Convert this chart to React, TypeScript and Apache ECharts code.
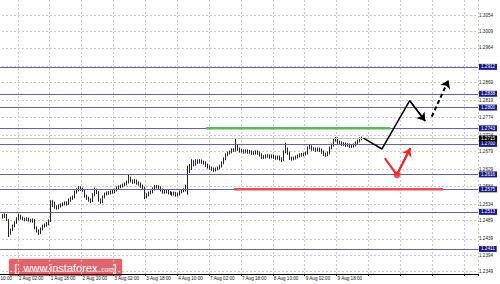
import React, { useEffect, useRef } from "react";
import * as echarts from "echarts";

// x-axis tick labels, one every 16 hourly bars, starting at slot 0
const timeLabels = [
  "31 Jul 10:00", "1 Aug 02:00", "1 Aug 18:00", "2 Aug 10:00", "3 Aug 02:00", "3 Aug 18:00",
  "4 Aug 10:00", "7 Aug 02:00", "7 Aug 18:00", "8 Aug 10:00", "9 Aug 02:00", "9 Aug 18:00",
];
const barsPerLabel = 16;
const slotCount = 247;
const firstBar = 8;

// H1 candles [open, close, low, high]
const candles = [
  [1.2502, 1.2499, 1.2494, 1.2507], [1.2499, 1.2505, 1.2496, 1.2509], [1.2505, 1.2491, 1.2488, 1.2507],
  [1.2491, 1.2458, 1.2444, 1.2493], [1.2458, 1.2463, 1.2450, 1.2467], [1.2463, 1.2474, 1.2460, 1.2478],
  [1.2474, 1.2483, 1.2471, 1.2487], [1.2483, 1.2494, 1.2480, 1.2498], [1.2494, 1.2502, 1.2490, 1.2508],
  [1.2502, 1.2496, 1.2492, 1.2505], [1.2496, 1.2494, 1.2490, 1.2500], [1.2494, 1.2491, 1.2487, 1.2497],
  [1.2491, 1.2494, 1.2488, 1.2498], [1.2494, 1.2491, 1.2486, 1.2497], [1.2491, 1.2488, 1.2484, 1.2494],
  [1.2488, 1.2491, 1.2483, 1.2495], [1.2491, 1.2469, 1.2465, 1.2493], [1.2469, 1.2461, 1.2456, 1.2473],
  [1.2461, 1.2455, 1.2449, 1.2465], [1.2455, 1.2466, 1.2452, 1.2470], [1.2466, 1.2474, 1.2462, 1.2478],
  [1.2474, 1.2477, 1.2470, 1.2481], [1.2477, 1.2480, 1.2472, 1.2485], [1.2480, 1.2488, 1.2476, 1.2492],
  [1.2488, 1.2532, 1.2485, 1.2545], [1.2532, 1.2538, 1.2526, 1.2546], [1.2538, 1.2527, 1.2522, 1.2541],
  [1.2527, 1.2524, 1.2519, 1.2531], [1.2524, 1.2529, 1.2520, 1.2533], [1.2529, 1.2532, 1.2525, 1.2536],
  [1.2532, 1.2535, 1.2528, 1.2539], [1.2535, 1.2538, 1.2531, 1.2542], [1.2538, 1.2535, 1.2530, 1.2542],
  [1.2535, 1.2546, 1.2532, 1.2550], [1.2546, 1.2551, 1.2541, 1.2555], [1.2551, 1.2554, 1.2546, 1.2558],
  [1.2554, 1.2568, 1.2550, 1.2572], [1.2568, 1.2573, 1.2563, 1.2578], [1.2573, 1.2579, 1.2569, 1.2584],
  [1.2579, 1.2576, 1.2571, 1.2583], [1.2576, 1.2573, 1.2568, 1.2580], [1.2573, 1.2557, 1.2552, 1.2576],
  [1.2557, 1.2551, 1.2546, 1.2560], [1.2551, 1.2546, 1.2541, 1.2555], [1.2546, 1.2543, 1.2537, 1.2550],
  [1.2543, 1.2560, 1.2540, 1.2564], [1.2560, 1.2573, 1.2556, 1.2580], [1.2573, 1.2568, 1.2562, 1.2577],
  [1.2568, 1.2546, 1.2541, 1.2570], [1.2546, 1.2540, 1.2535, 1.2550], [1.2540, 1.2554, 1.2537, 1.2558],
  [1.2554, 1.2562, 1.2550, 1.2566], [1.2562, 1.2565, 1.2558, 1.2569], [1.2565, 1.2565, 1.2560, 1.2570],
  [1.2565, 1.2568, 1.2561, 1.2572], [1.2568, 1.2568, 1.2563, 1.2573], [1.2568, 1.2573, 1.2564, 1.2577],
  [1.2573, 1.2579, 1.2569, 1.2583], [1.2579, 1.2582, 1.2575, 1.2586], [1.2582, 1.2584, 1.2578, 1.2588],
  [1.2584, 1.2587, 1.2580, 1.2591], [1.2587, 1.2590, 1.2583, 1.2594], [1.2590, 1.2595, 1.2586, 1.2599],
  [1.2595, 1.2606, 1.2591, 1.2615], [1.2606, 1.2598, 1.2594, 1.2610], [1.2598, 1.2595, 1.2590, 1.2602],
  [1.2595, 1.2598, 1.2591, 1.2603], [1.2598, 1.2593, 1.2588, 1.2602], [1.2593, 1.2590, 1.2585, 1.2597],
  [1.2590, 1.2584, 1.2579, 1.2594], [1.2584, 1.2579, 1.2574, 1.2588], [1.2579, 1.2554, 1.2548, 1.2582],
  [1.2554, 1.2560, 1.2550, 1.2564], [1.2560, 1.2565, 1.2556, 1.2569], [1.2565, 1.2568, 1.2561, 1.2572],
  [1.2568, 1.2576, 1.2564, 1.2580], [1.2576, 1.2582, 1.2572, 1.2587], [1.2582, 1.2582, 1.2577, 1.2587],
  [1.2582, 1.2579, 1.2574, 1.2586], [1.2579, 1.2573, 1.2569, 1.2583], [1.2573, 1.2568, 1.2563, 1.2577],
  [1.2568, 1.2568, 1.2563, 1.2573], [1.2568, 1.2571, 1.2564, 1.2575], [1.2571, 1.2565, 1.2561, 1.2574],
  [1.2565, 1.2565, 1.2560, 1.2570], [1.2565, 1.2562, 1.2557, 1.2568], [1.2562, 1.2565, 1.2558, 1.2569],
  [1.2565, 1.2560, 1.2555, 1.2568], [1.2560, 1.2562, 1.2556, 1.2566], [1.2562, 1.2568, 1.2558, 1.2572],
  [1.2568, 1.2571, 1.2564, 1.2575], [1.2571, 1.2573, 1.2567, 1.2578], [1.2573, 1.2584, 1.2569, 1.2588],
  [1.2584, 1.2628, 1.2560, 1.2640], [1.2628, 1.2634, 1.2620, 1.2645], [1.2634, 1.2650, 1.2628, 1.2658],
  [1.2650, 1.2645, 1.2638, 1.2655], [1.2645, 1.2653, 1.2640, 1.2658], [1.2653, 1.2650, 1.2645, 1.2657],
  [1.2650, 1.2653, 1.2646, 1.2658], [1.2653, 1.2650, 1.2645, 1.2657], [1.2650, 1.2648, 1.2643, 1.2654],
  [1.2648, 1.2642, 1.2637, 1.2652], [1.2642, 1.2637, 1.2632, 1.2646], [1.2637, 1.2634, 1.2629, 1.2641],
  [1.2634, 1.2631, 1.2626, 1.2638], [1.2631, 1.2628, 1.2623, 1.2635], [1.2628, 1.2631, 1.2624, 1.2635],
  [1.2631, 1.2634, 1.2627, 1.2638], [1.2634, 1.2639, 1.2630, 1.2643], [1.2639, 1.2648, 1.2635, 1.2652],
  [1.2648, 1.2659, 1.2644, 1.2663], [1.2659, 1.2670, 1.2655, 1.2674], [1.2670, 1.2675, 1.2666, 1.2679],
  [1.2675, 1.2678, 1.2671, 1.2682], [1.2678, 1.2683, 1.2674, 1.2688], [1.2683, 1.2683, 1.2678, 1.2688],
  [1.2683, 1.2694, 1.2679, 1.2714], [1.2694, 1.2686, 1.2681, 1.2700], [1.2686, 1.2681, 1.2676, 1.2690],
  [1.2681, 1.2681, 1.2676, 1.2686], [1.2681, 1.2678, 1.2673, 1.2685], [1.2678, 1.2681, 1.2674, 1.2685],
  [1.2681, 1.2678, 1.2673, 1.2685], [1.2678, 1.2678, 1.2673, 1.2683], [1.2678, 1.2675, 1.2670, 1.2682],
  [1.2675, 1.2675, 1.2670, 1.2680], [1.2675, 1.2678, 1.2671, 1.2682], [1.2678, 1.2675, 1.2670, 1.2682],
  [1.2675, 1.2670, 1.2665, 1.2679], [1.2670, 1.2664, 1.2659, 1.2674], [1.2664, 1.2664, 1.2659, 1.2669],
  [1.2664, 1.2667, 1.2660, 1.2671], [1.2667, 1.2667, 1.2662, 1.2672], [1.2667, 1.2664, 1.2659, 1.2671],
  [1.2664, 1.2667, 1.2660, 1.2671], [1.2667, 1.2664, 1.2659, 1.2671], [1.2664, 1.2661, 1.2656, 1.2668],
  [1.2661, 1.2664, 1.2657, 1.2668], [1.2664, 1.2659, 1.2654, 1.2668], [1.2659, 1.2656, 1.2650, 1.2663],
  [1.2656, 1.2678, 1.2652, 1.2682], [1.2678, 1.2686, 1.2674, 1.2703], [1.2686, 1.2675, 1.2670, 1.2690],
  [1.2675, 1.2661, 1.2656, 1.2679], [1.2661, 1.2659, 1.2654, 1.2665], [1.2659, 1.2661, 1.2655, 1.2665],
  [1.2661, 1.2664, 1.2657, 1.2668], [1.2664, 1.2667, 1.2660, 1.2671], [1.2667, 1.2670, 1.2663, 1.2674],
  [1.2670, 1.2670, 1.2665, 1.2675], [1.2670, 1.2672, 1.2666, 1.2676], [1.2672, 1.2675, 1.2668, 1.2679],
  [1.2675, 1.2689, 1.2671, 1.2693], [1.2689, 1.2692, 1.2685, 1.2697], [1.2692, 1.2686, 1.2681, 1.2696],
  [1.2686, 1.2686, 1.2681, 1.2691], [1.2686, 1.2683, 1.2678, 1.2690], [1.2683, 1.2686, 1.2679, 1.2690],
  [1.2686, 1.2683, 1.2678, 1.2690], [1.2683, 1.2678, 1.2673, 1.2687], [1.2678, 1.2672, 1.2667, 1.2682],
  [1.2672, 1.2670, 1.2664, 1.2676], [1.2670, 1.2675, 1.2666, 1.2679], [1.2675, 1.2689, 1.2671, 1.2693],
  [1.2689, 1.2697, 1.2685, 1.2701], [1.2697, 1.2711, 1.2693, 1.2715], [1.2711, 1.2714, 1.2706, 1.2719],
  [1.2714, 1.2705, 1.2700, 1.2718], [1.2705, 1.2703, 1.2698, 1.2709], [1.2703, 1.2700, 1.2695, 1.2707],
  [1.2700, 1.2700, 1.2695, 1.2705], [1.2700, 1.2697, 1.2692, 1.2704], [1.2697, 1.2697, 1.2692, 1.2702],
  [1.2697, 1.2694, 1.2689, 1.2701], [1.2694, 1.2694, 1.2689, 1.2699], [1.2694, 1.2697, 1.2690, 1.2701],
  [1.2697, 1.2703, 1.2693, 1.2707], [1.2703, 1.2708, 1.2699, 1.2712], [1.2708, 1.2714, 1.2704, 1.2718],
  [1.2714, 1.2716, 1.2710, 1.2720],
];

// right-axis price labels
const priceTicks = [
  1.2349, 1.2394, 1.2439, 1.2489, 1.2534, 1.2584, 1.2629, 1.2679,
  1.2724, 1.2774, 1.2819, 1.2869, 1.2914, 1.2964, 1.3009, 1.3054,
];
const levels = [1.2912, 1.2838, 1.28, 1.2743, 1.27, 1.2616, 1.2575, 1.2513, 1.2411];
const currentPrice = 1.2715;
const yMin = 1.2342;
const yMax = 1.3096;

// annotations in [bar slot, price]
const resistanceZone = [[110, 1.2743], [202.5, 1.2743]];
const supportZone = [[124, 1.2575], [229, 1.2575]];
const mainPath = [[189, 1.2716], [198.3, 1.2686], [212.2, 1.2819], [220, 1.2763]];
const altPath = [[199.7, 1.2661], [205.8, 1.2615], [212.5, 1.2688]];
const breakoutArrow = [[223.3, 1.2775], [231.7, 1.2876]];

const FONT = "'Liberation Sans', Arial, sans-serif";
const OFFSET = 16; // chart canvas starts 16px left of the page so the first time label is cut off

export default function App() {
  const ref = useRef<HTMLDivElement>(null);
  useEffect(() => {
    if (!ref.current) return;
    const chart = echarts.init(ref.current, undefined, { renderer: "svg" });
    const categories = Array.from({ length: slotCount }, (_, i) => String(i));
    const candleData: any[] = categories.map((_, i) => {
      const c = candles[i - firstBar];
      return c ? c : "-";
    });
    const dashed = { color: "#c9c9c9", type: [2, 2] as any, width: 1 };
    const levelData: any[] = levels.map((v) => ({ yAxis: v }));
    levelData.push({
      yAxis: currentPrice,
      lineStyle: { color: "#c4c4c4", width: 1, type: "solid" },
      label: { backgroundColor: "#000" },
    });

    chart.setOption({
      animation: false,
      backgroundColor: "#fff",
      grid: { left: 0, right: 22, top: 0, bottom: 10, containLabel: false },
      xAxis: [
        {
          type: "category",
          data: categories,
          boundaryGap: true,
          axisLine: { show: true, lineStyle: { color: "#000", width: 1 } },
          axisTick: { show: true, interval: barsPerLabel - 1, length: 2, lineStyle: { color: "#000" } },
          axisLabel: {
            interval: barsPerLabel - 1,
            align: "left",
            margin: 2,
            fontSize: 4.6,
            fontFamily: FONT,
            color: "#111",
            formatter: (v: string) => {
              const n = Number(v);
              return n % barsPerLabel === 0 ? timeLabels[n / barsPerLabel] ?? "" : "";
            },
          },
          splitLine: { show: true, interval: barsPerLabel - 1, lineStyle: dashed },
        },
        { type: "value", min: -0.5, max: slotCount - 0.5, show: false },
      ],
      yAxis: {
        type: "value",
        position: "right",
        min: yMin,
        max: yMax,
        axisLine: { show: true, lineStyle: { color: "#000", width: 1 } },
        axisTick: { show: true, length: 2, customValues: priceTicks, lineStyle: { color: "#000" } },
        axisLabel: {
          customValues: priceTicks,
          margin: 1,
          fontSize: 4.6,
          fontFamily: FONT,
          color: "#222",
          formatter: (v: number) => v.toFixed(4),
        },
        splitLine: { show: true, lineStyle: dashed },
      },
      graphic: [
        {
          type: "group",
          left: 8 + OFFSET,
          top: 258,
          z: 100,
          children: [
            {
              type: "rect",
              shape: { x: 0, y: 0, width: 114, height: 18, r: 2 },
              style: { fill: "rgba(220,78,88,0.88)", stroke: "rgba(255,255,255,0.6)", lineWidth: 1 },
            },
            { type: "text", x: 6, y: 9, style: { text: "[", fill: "#fff", font: `11px ${FONT}`, verticalAlign: "middle" } },
            { type: "text", x: 15, y: 9.5, style: { text: "www.instaforex", fill: "#fff", font: `11px ${FONT}`, verticalAlign: "middle" } },
            { type: "text", x: 91, y: 10.5, style: { text: ".com", fill: "#fff", font: `6.5px ${FONT}`, verticalAlign: "middle" } },
            { type: "text", x: 105, y: 9, style: { text: "]", fill: "#fff", font: `11px ${FONT}`, verticalAlign: "middle" } },
          ],
        },
      ],
      series: [
        {
          type: "candlestick",
          xAxisIndex: 0,
          yAxisIndex: 0,
          data: candleData,
          barWidth: 1,
          itemStyle: {
            color: "#222",
            color0: "#222",
            borderColor: "#222",
            borderColor0: "#222",
            borderWidth: 1,
          },
          markLine: {
            silent: true,
            precision: 4,
            symbol: ["none", "none"],
            lineStyle: { color: "#6262aa", width: 1, type: "solid" },
            label: {
              show: true,
              position: "end",
              distance: 1,
              formatter: (p: any) => Number(p.value).toFixed(4),
              backgroundColor: "#1a1a86",
              color: "#fff",
              fontSize: 4.6,
              fontFamily: FONT,
              lineHeight: 5,
              padding: [0.5, 2, 0.5, 2],
            },
            data: levelData,
          },
        },
        {
          type: "line",
          xAxisIndex: 1,
          yAxisIndex: 0,
          data: resistanceZone,
          symbol: "none",
          z: 5,
          lineStyle: { color: "#5cb85c", width: 2.5 },
        },
        {
          type: "line",
          xAxisIndex: 1,
          yAxisIndex: 0,
          data: supportZone,
          symbol: "none",
          z: 5,
          lineStyle: { color: "#e8505a", width: 2.5 },
        },
        {
          type: "line",
          xAxisIndex: 1,
          yAxisIndex: 0,
          data: mainPath,
          symbol: "none",
          z: 6,
          lineStyle: { color: "#000", width: 1.5 },
        },
        {
          type: "lines",
          coordinateSystem: "cartesian2d",
          xAxisIndex: 1,
          yAxisIndex: 0,
          z: 6,
          symbol: ["none", "arrow"],
          symbolSize: 8,
          lineStyle: { color: "#000", width: 1.5, opacity: 1, curveness: 0 },
          data: [{ coords: [mainPath[2], mainPath[3]] }],
        },
        {
          type: "line",
          xAxisIndex: 1,
          yAxisIndex: 0,
          data: altPath,
          symbol: "none",
          z: 6,
          lineStyle: { color: "#ee2a2a", width: 2 },
        },
        {
          type: "lines",
          coordinateSystem: "cartesian2d",
          xAxisIndex: 1,
          yAxisIndex: 0,
          z: 6,
          symbol: ["none", "arrow"],
          symbolSize: 8,
          lineStyle: { color: "#ee2a2a", width: 2, opacity: 1, curveness: 0 },
          data: [{ coords: [altPath[1], altPath[2]] }],
        },
        {
          type: "scatter",
          xAxisIndex: 1,
          yAxisIndex: 0,
          z: 7,
          symbolSize: 7,
          itemStyle: { color: "#ee2a2a" },
          data: [altPath[1]],
        },
        {
          type: "lines",
          coordinateSystem: "cartesian2d",
          xAxisIndex: 1,
          yAxisIndex: 0,
          z: 6,
          symbol: ["none", "arrow"],
          symbolSize: 8,
          lineStyle: { color: "#000", width: 2, opacity: 1, curveness: 0, type: [4, 3] },
          data: [{ coords: breakoutArrow }],
        },
      ],
    });
    return () => chart.dispose();
  }, []);
  return (
    <div style={{ position: "absolute", left: 0, top: 0, width: 500, height: 284, overflow: "hidden", background: "#fff" }}>
      <div
        ref={ref}
        style={{ position: "absolute", left: -OFFSET, top: 0, width: 500 + OFFSET, height: 284 }}
      />
    </div>
  );
}
